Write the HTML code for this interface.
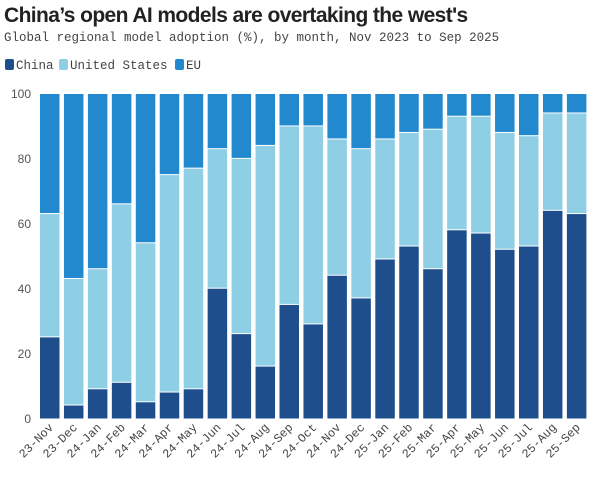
<!DOCTYPE html>
<html><head><meta charset="utf-8"><style>
body{margin:0;background:#fff;width:600px;height:476px;overflow:hidden;font-family:"Liberation Sans",sans-serif}
</style></head><body>
<svg width="600" height="476" xmlns="http://www.w3.org/2000/svg">
<text x="4" y="22" font-family="Liberation Sans" font-weight="bold" font-size="21" fill="#222" letter-spacing="-0.6">China’s open AI models are overtaking the west's</text>
<text x="4" y="41" font-family="Liberation Mono" font-size="12.5" fill="#444">Global regional model adoption (%), by month, Nov 2023 to Sep 2025</text>
<g font-family="Liberation Mono" font-size="12.5" fill="#444">
<rect x="5" y="59" width="9" height="11" rx="2" fill="#1f4e8c"/><text x="16" y="69">China</text>
<rect x="59" y="59" width="9" height="11" rx="2" fill="#8fcfe6"/><text x="70" y="69">United States</text>
<rect x="175" y="59" width="9" height="11" rx="2" fill="#2389cf"/><text x="186" y="69">EU</text>
</g>
<g font-family="Liberation Sans" font-size="12" fill="#555" text-anchor="end">
<text x="31" y="98">100</text><text x="31" y="163">80</text><text x="31" y="228">60</text><text x="31" y="293">40</text><text x="31" y="358">20</text><text x="31" y="423">0</text>
</g>
<g id="bars"></g>
<g id="labels" font-family="Liberation Mono" font-size="12" fill="#444" text-anchor="end"></g>
</svg>
<script>
var d=[["23-Nov",25,63],["23-Dec",4,43],["24-Jan",9,46],["24-Feb",11,66],["24-Mar",5,54],["24-Apr",8,75],["24-May",9,77],["24-Jun",40,83],["24-Jul",26,80],["24-Aug",16,84],["24-Sep",35,90],["24-Oct",29,90],["24-Nov",44,86],["24-Dec",37,83],["25-Jan",49,86],["25-Feb",53,88],["25-Mar",46,89],["25-Apr",58,93],["25-May",57,93],["25-Jun",52,88],["25-Jul",53,87],["25-Aug",64,94],["25-Sep",63,94]];
var ns="http://www.w3.org/2000/svg",b=document.getElementById("bars"),l=document.getElementById("labels");
var y0=418.5,k=3.245;
function r(x,y,h,c){var e=document.createElementNS(ns,"rect");e.setAttribute("x",x);e.setAttribute("y",y);e.setAttribute("width",19.5);e.setAttribute("height",h);e.setAttribute("fill",c);b.appendChild(e);}
d.forEach(function(v,i){var x=40+i*23.95;
var yc=y0-v[1]*k,yu=y0-v[2]*k,yt=y0-100*k;
r(x,yt,yu-yt-1,"#2389cf");r(x,yu,yc-yu-1,"#8fcfe6");r(x,yc,y0-yc,"#1f4e8c");
var t=document.createElementNS(ns,"text");t.setAttribute("transform","translate("+(x+14)+",428) rotate(-45)");t.textContent=v[0];l.appendChild(t);});
</script>
</body></html>
